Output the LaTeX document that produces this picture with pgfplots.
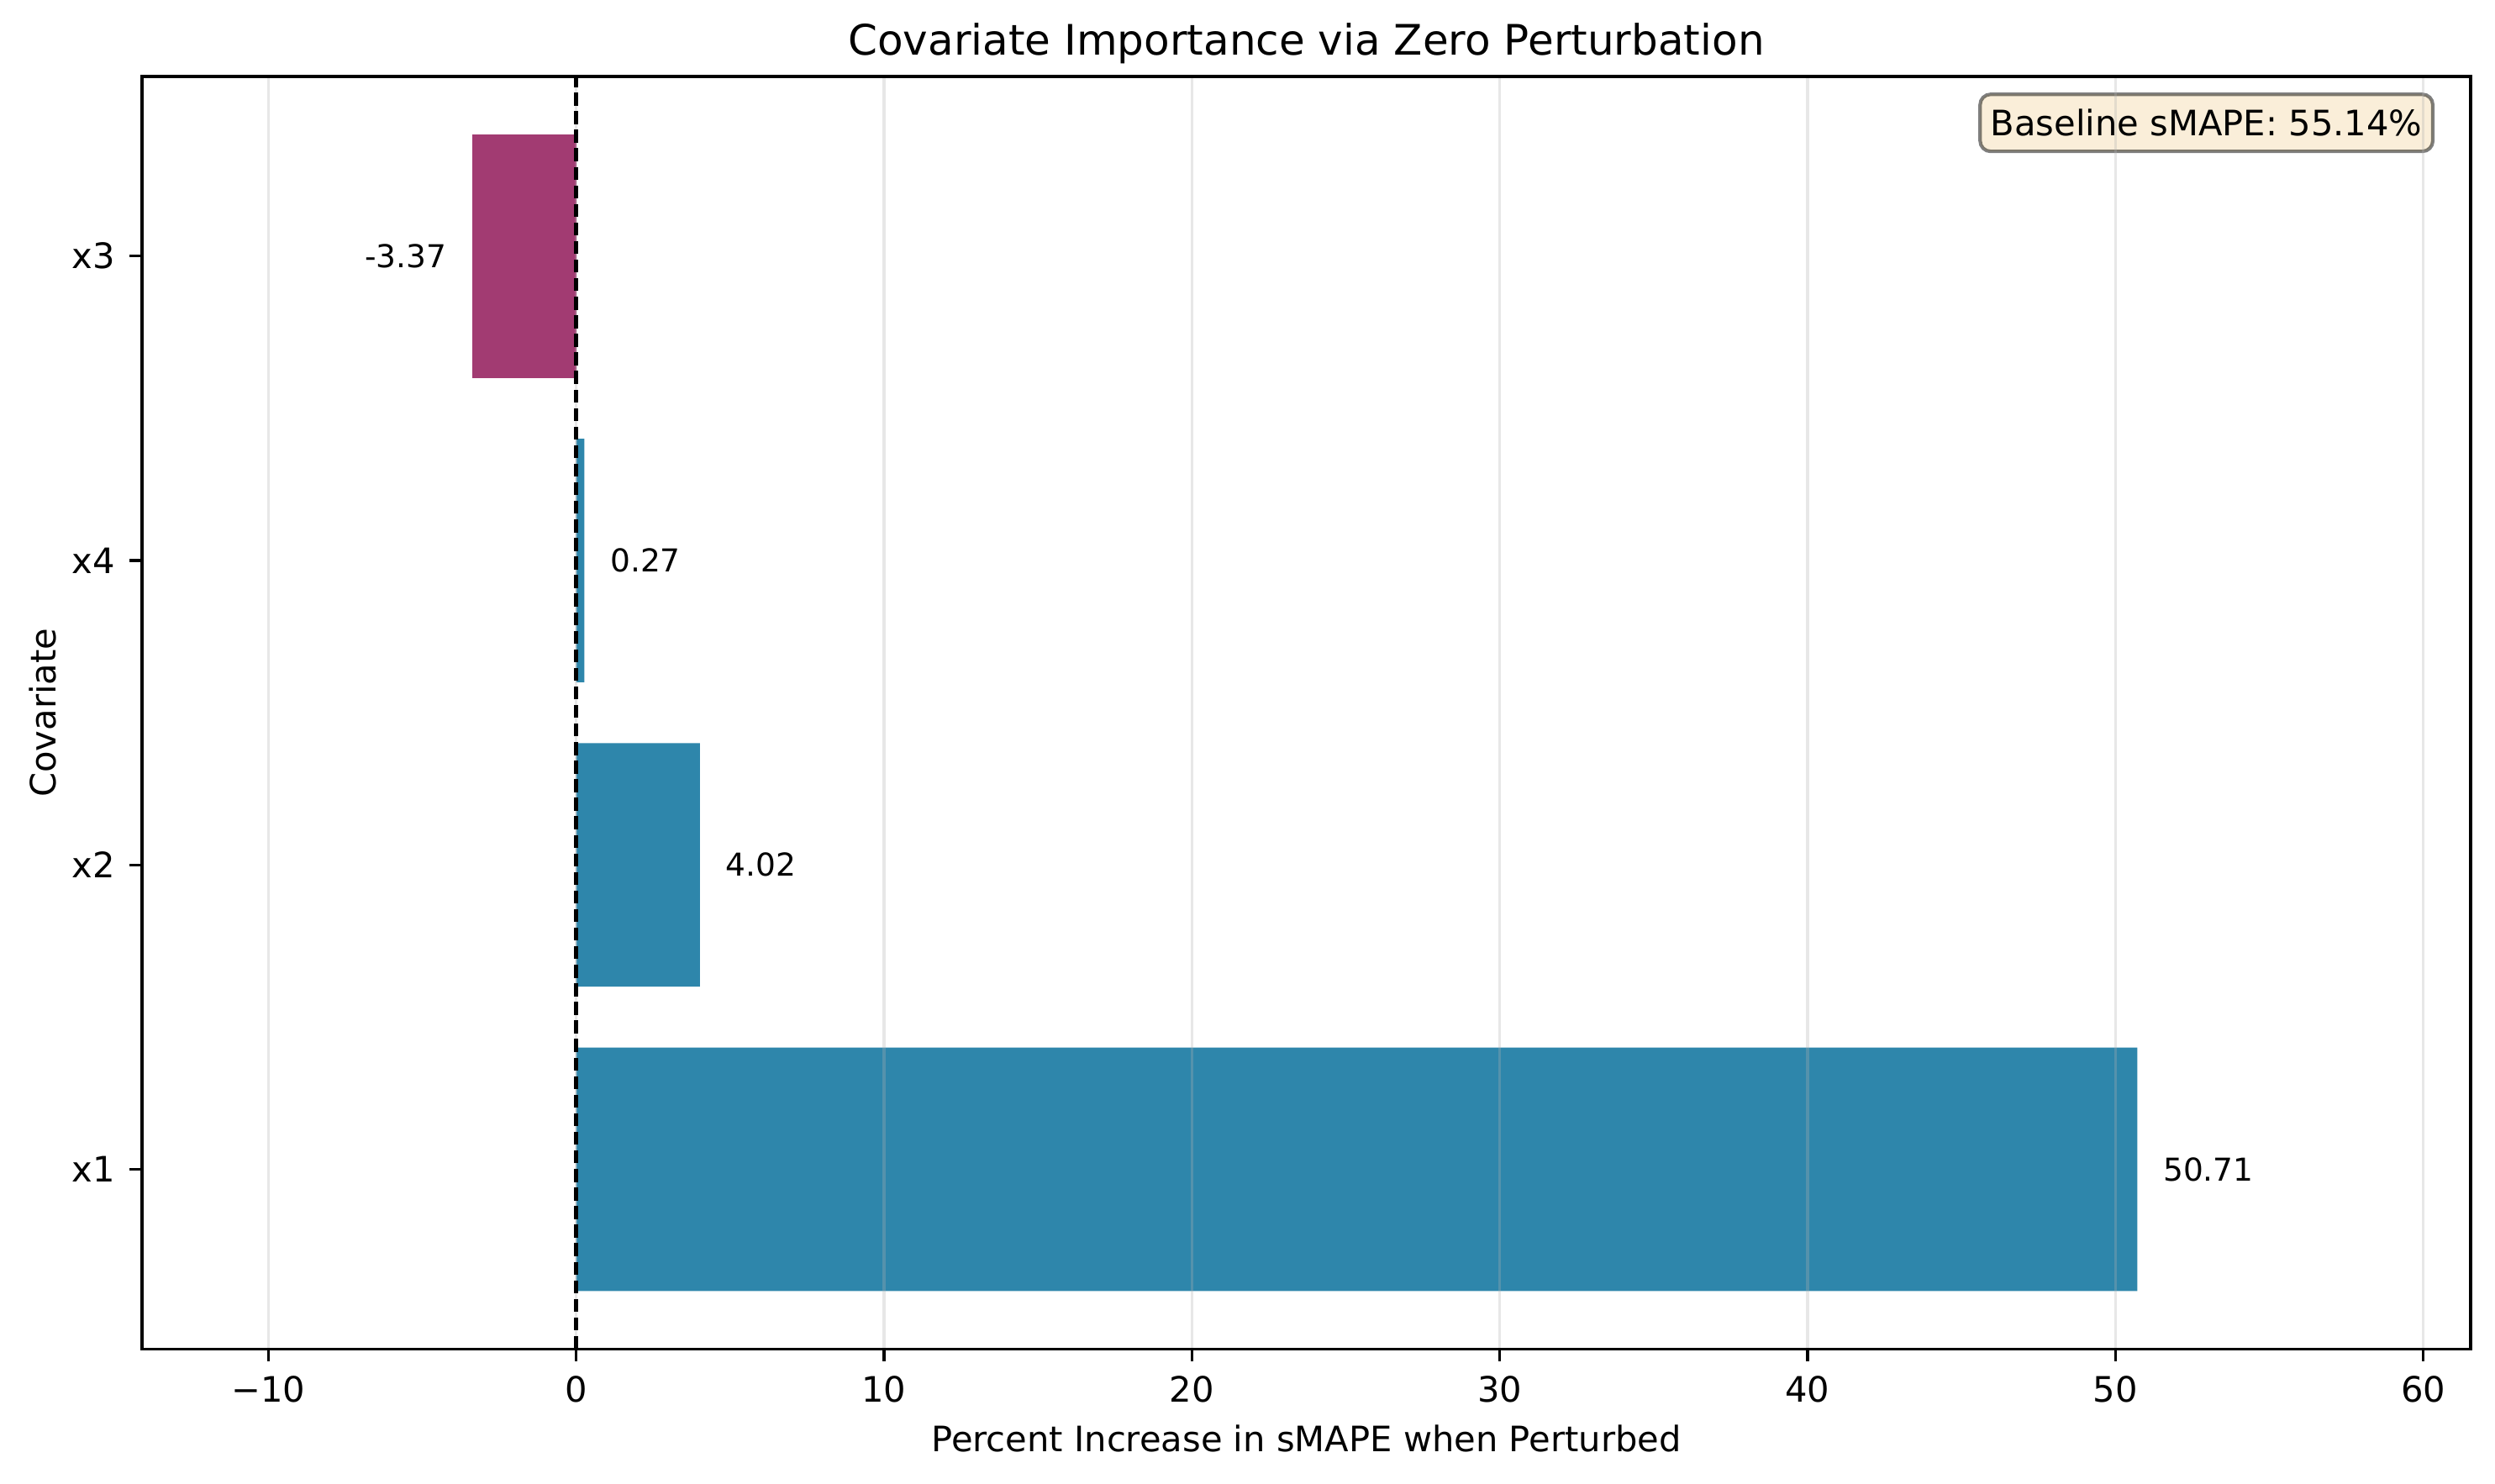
\documentclass[border=0pt]{standalone}
\usepackage{pgfplots}
\pgfplotsset{compat=1.18}
\usepackage{fontspec}
\setmainfont{DejaVu Sans}

\definecolor{barblue}{HTML}{2E86AB}
\definecolor{barneg}{HTML}{A23B72}
\definecolor{wheat}{RGB}{245,222,179}
\definecolor{gridgray}{RGB}{176,176,176}

\newcommand{\tfont}{\fontsize{10}{12}\selectfont}
\newcommand{\vfont}{\fontsize{9}{11}\selectfont}

\begin{document}
\begin{tikzpicture}
\begin{axis}[
  name=ax, at={(0,0)}, anchor=south west,
  scale only axis, width=665pt, height=363.4pt,
  set layers, axis on top,
  xbar, bar width=0.8, bar shift=0pt,
  xmin=-14.1, xmax=61.54, ymin=-0.59, ymax=3.59,
  xtick={-10,0,10,20,30,40,50,60},
  xticklabels={−10,0,10,20,30,40,50,60},
  ytick={0,1,2,3}, yticklabels={x1,x2,x4,x3},
  xtick pos=left, ytick pos=left,
  tick align=outside, major tick length=3.5pt,
  tick style={black, line width=0.8pt},
  axis line style={black, line width=0.8pt},
  xmajorgrids, ymajorgrids=false,
  major grid style={draw=gridgray, draw opacity=0.3, line width=0.8pt},
  ticklabel style={font=\tfont, inner sep=0pt},
  xticklabel style={anchor=north, yshift=-4pt},
  yticklabel style={anchor=east, xshift=-4pt},
  title={Covariate Importance via Zero Perturbation},
  title style={at={(rel axis cs:0.5,1)}, anchor=base, inner sep=0pt, font=\fontsize{12}{14}\selectfont},
  xlabel={Percent Increase in sMAPE when Perturbed},
  xlabel style={at={(rel axis cs:0.5,0)}, anchor=base, yshift=-29.3pt, inner sep=0pt, font=\tfont},
  ylabel={Covariate},
  ylabel style={at={(rel axis cs:0,0.5)}, anchor=base, yshift=24.5pt, inner sep=0pt, font=\tfont},
]
\addplot[draw=none, fill=barblue] coordinates {(50.71,0) (4.02,1) (0.27,2)};
\addplot[draw=none, fill=barneg] coordinates {(-3.37,3)};
\addplot[on layer=axis foreground, sharp plot, black, line width=1pt, dash pattern=on 3.7pt off 1.6pt]
  coordinates {(0,-0.59) (0,3.59)};
\node[anchor=west, inner sep=0pt, font=\vfont] at (axis cs:51.53,0) {50.71};
\node[anchor=west, inner sep=0pt, font=\vfont] at (axis cs:4.84,1) {4.02};
\node[anchor=west, inner sep=0pt, font=\vfont] at (axis cs:1.09,2) {0.27};
\node[anchor=east, inner sep=0pt, font=\vfont] at (axis cs:-4.19,3) {-3.37};
\end{axis}
\node[anchor=north east, xshift=-10.3pt, yshift=-4.6pt,
      rounded corners=3pt, fill=wheat, fill opacity=0.5, draw=black, draw opacity=0.5,
      text opacity=1, line width=1pt, inner xsep=3pt, minimum height=16.3pt, font=\tfont]
  at (ax.north east) {Baseline sMAPE: 55.14\%};
\pgfresetboundingbox
\path[use as bounding box] (-40.56pt,-38.4pt) rectangle (671.96pt,385.24pt);
\end{tikzpicture}
\end{document}
